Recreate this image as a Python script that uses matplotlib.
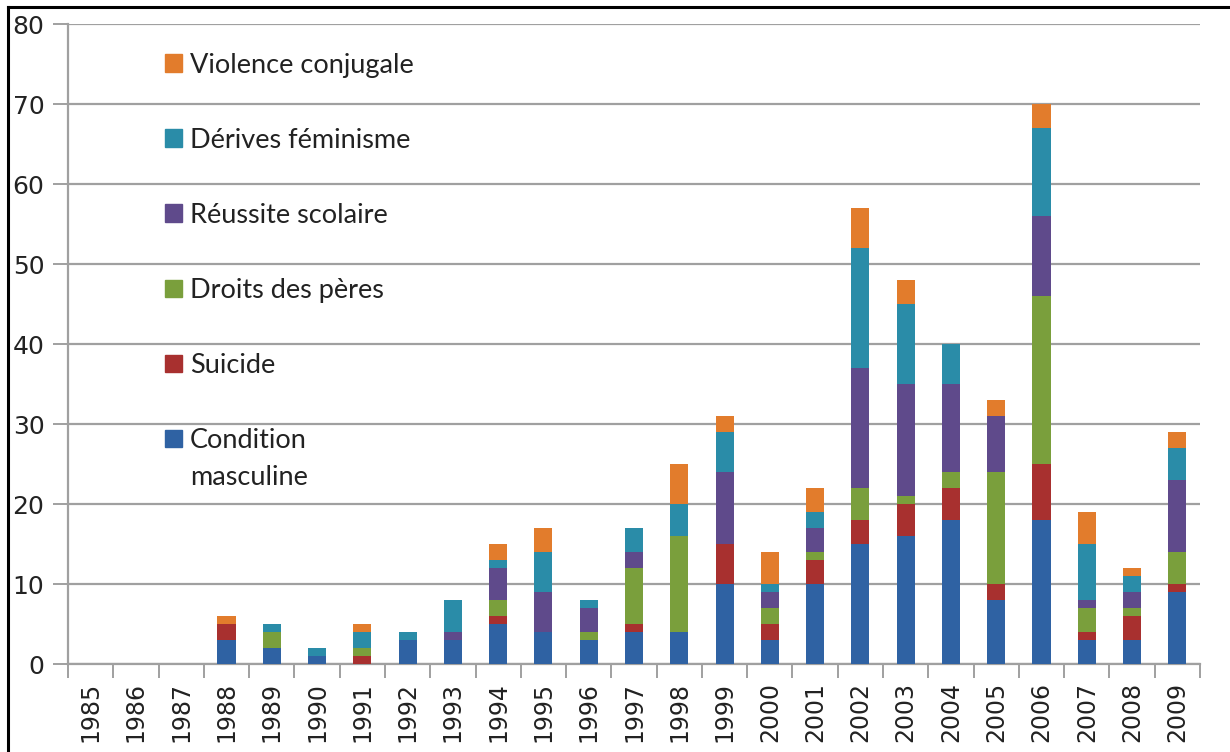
import matplotlib
matplotlib.use("Agg")
import matplotlib.pyplot as plt
from matplotlib.patches import Rectangle
from matplotlib.lines import Line2D
import numpy as np

years = [str(y) for y in range(1985, 2010)]

condition = [0, 0, 0, 3, 2, 1, 0, 3, 3, 5, 4, 3, 4, 4, 10, 3, 10, 15, 16, 18, 8, 18, 3, 3, 9]
suicide = [0, 0, 0, 2, 0, 0, 1, 0, 0, 1, 0, 0, 1, 0, 5, 2, 3, 3, 4, 4, 2, 7, 1, 3, 1]
droits = [0, 0, 0, 0, 2, 0, 1, 0, 0, 2, 0, 1, 7, 12, 0, 2, 1, 4, 1, 2, 14, 21, 3, 1, 4]
reussite = [0, 0, 0, 0, 0, 0, 0, 0, 1, 4, 5, 3, 2, 0, 9, 2, 3, 15, 14, 11, 7, 10, 1, 2, 9]
derives = [0, 0, 0, 0, 1, 1, 2, 1, 4, 1, 5, 1, 3, 4, 5, 1, 2, 15, 10, 5, 0, 11, 7, 2, 4]
violence = [0, 0, 0, 1, 0, 0, 1, 0, 0, 2, 3, 0, 0, 5, 2, 4, 3, 5, 3, 0, 2, 3, 4, 1, 2]

series = [
    ("Condition\nmasculine", condition, "#2f62a3"),
    ("Suicide", suicide, "#a8302f"),
    ("Droits des pères", droits, "#7a9f3c"),
    ("Réussite scolaire", reussite, "#5f4a8b"),
    ("Dérives féminisme", derives, "#2a8ca8"),
    ("Violence conjugale", violence, "#e27c2c"),
]

grid_col = "#a0a0a0"

fig = plt.figure(figsize=(12.3, 7.52), dpi=100)
ax = fig.add_axes([68 / 1230, 88 / 752, 1132 / 1230, 640 / 752])

x = np.arange(len(years))
bottom = np.zeros(len(years))
for name, vals, col in series:
    ax.bar(x, vals, width=0.4, bottom=bottom, color=col, zorder=3)
    bottom += np.array(vals)

ax.set_xlim(-0.5, len(years) - 0.5)
ax.set_ylim(0, 80)
ax.set_yticks(range(0, 81, 10))
ax.yaxis.grid(True, color=grid_col, linewidth=1.6, zorder=0)
ax.tick_params(axis="y", length=11, width=1.4, color=grid_col, pad=6,
               labelsize=18, labelcolor="#222222")

ax.set_xticks(x)
ax.set_xticklabels(years, rotation=90, fontsize=17, color="#222222")
ax.set_xticks(np.arange(-0.5, len(years)), minor=True)
ax.tick_params(axis="x", which="major", length=0, pad=13)
ax.tick_params(axis="x", which="minor", length=10, width=1.4, color=grid_col)

for s in ["top", "right"]:
    ax.spines[s].set_visible(False)
for s in ["left", "bottom"]:
    ax.spines[s].set_color(grid_col)
    ax.spines[s].set_linewidth(1.6)

# legend drawn as a column of swatches, top entry first
y0 = (664 - 63) / 640
step = 75 / 640
for i, (name, vals, col) in enumerate(reversed(series)):
    yc = y0 - i * step
    ax.add_patch(Rectangle((97 / 1132, yc - 8.5 / 640), 17 / 1132, 17 / 640,
                           transform=ax.transAxes, color=col, zorder=4, clip_on=False))
    for j, line in enumerate(name.split("\n")):
        ax.text(122 / 1132, yc - (10 + 37 * j) / 640, line, transform=ax.transAxes,
                va="baseline", ha="left", fontsize=19.5, family="Lato",
                color="#222222", zorder=4)

# outer frame lines (top and left)
fig.add_artist(Line2D([8 / 1230, 1], [1 - 7 / 752, 1 - 7 / 752], color="black",
                      linewidth=2.2, transform=fig.transFigure))
fig.add_artist(Line2D([8 / 1230, 8 / 1230], [0, 1 - 7 / 752], color="black",
                      linewidth=2.2, transform=fig.transFigure))

fig.savefig("out.png", dpi=100)
